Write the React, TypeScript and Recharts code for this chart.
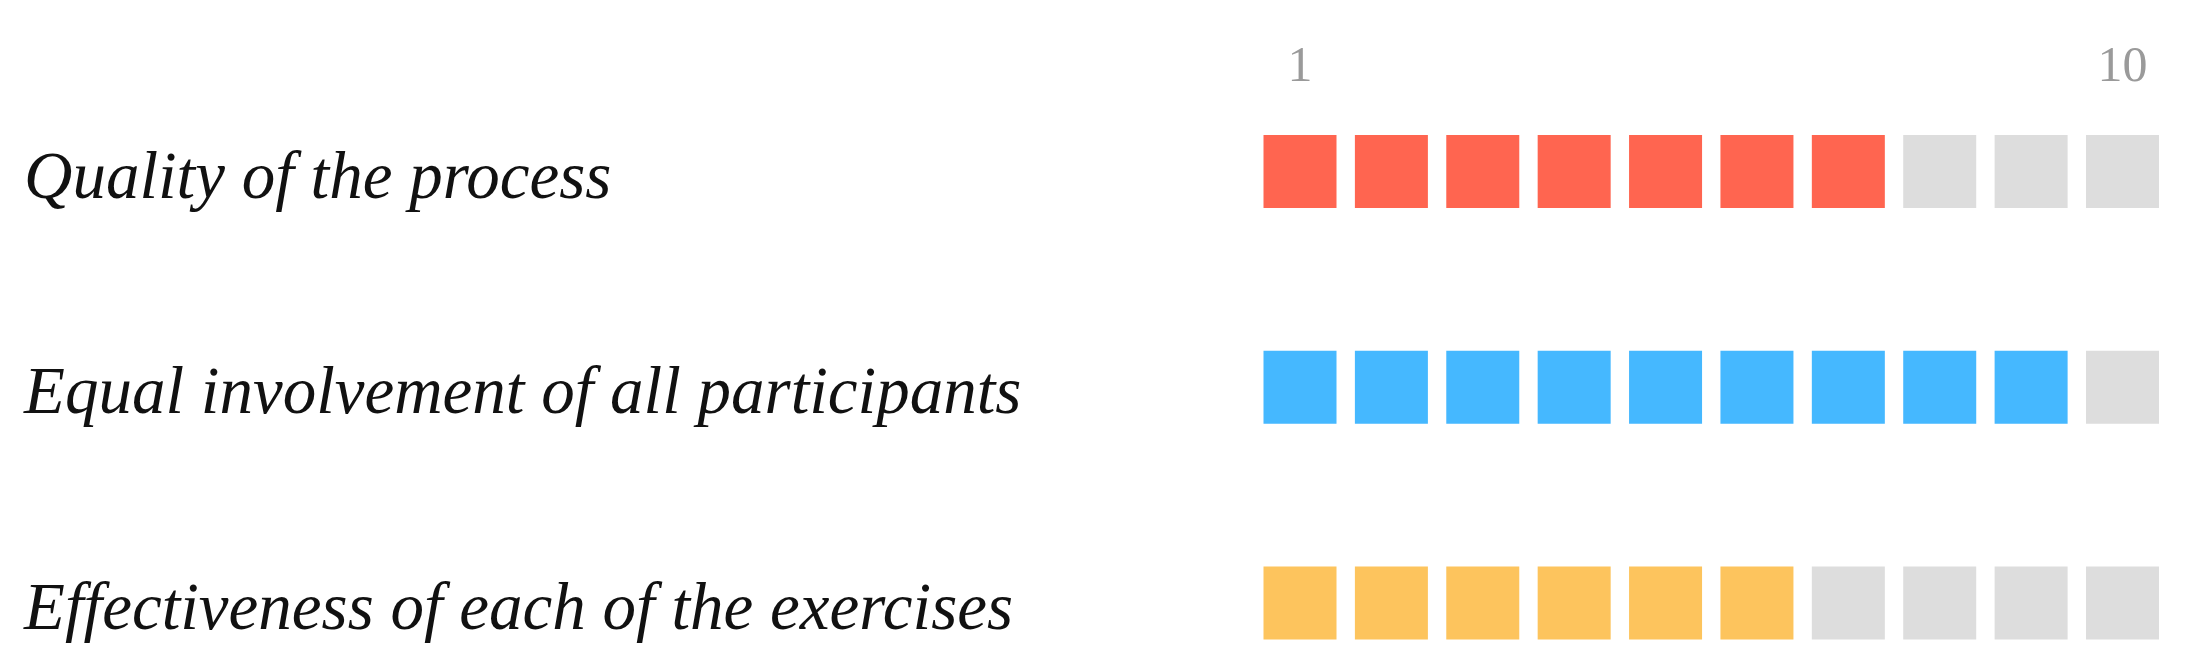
import { ScatterChart, Scatter, XAxis, YAxis, Cell } from "recharts";

const categories = [
  "Quality of the process",
  "Equal involvement of all participants",
  "Effectiveness of each of the exercises",
];
const scores = [7, 9, 6];
const rowColors = ["#ff6550", "#45b8ff", "#fdc45d"];
const emptyColor = "#dddddd";
const scale = [1, 2, 3, 4, 5, 6, 7, 8, 9, 10];
const scaleTicks = [1, 10];

const SQUARE = 73;

const points = categories.flatMap((name, row) =>
  scale.map((pos) => ({
    pos,
    row,
    name,
    fill: pos <= scores[row] ? rowColors[row] : emptyColor,
  }))
);

const Square = (props: any) => {
  const { cx, cy, fill } = props;
  return (
    <rect
      x={cx - SQUARE / 2}
      y={cy - SQUARE / 2}
      width={SQUARE}
      height={SQUARE}
      fill={fill}
    />
  );
};

const RowLabel = (props: any) => {
  const { y, payload } = props;
  return (
    <text
      x={24}
      y={y + 26}
      textAnchor="start"
      fontFamily="'Liberation Serif', 'Times New Roman', serif"
      fontStyle="italic"
      fontSize={67}
      fill="#111"
    >
      {categories[payload.value]}
    </text>
  );
};

const ScaleLabel = (props: any) => {
  const { x, payload } = props;
  return (
    <text
      x={x}
      y={81}
      textAnchor="middle"
      fontFamily="'Liberation Serif', 'Times New Roman', serif"
      fontSize={50}
      fill="#9a9a9a"
    >
      {payload.value}
    </text>
  );
};

const App = () => {
  return (
    <div style={{ position: "absolute", left: 0, top: 0, background: "#fff" }}>
      <ScatterChart
        width={2204}
        height={672}
        margin={{ top: 131.5, right: 81.5, bottom: 69, left: 0 }}
      >
        <XAxis
          type="number"
          dataKey="pos"
          orientation="top"
          domain={[1, 10]}
          ticks={scaleTicks}
          height={40}
          axisLine={false}
          tickLine={false}
          tick={<ScaleLabel />}
        />
        <YAxis
          type="number"
          dataKey="row"
          domain={[0, 2]}
          ticks={[0, 1, 2]}
          reversed
          width={1300}
          axisLine={false}
          tickLine={false}
          tick={<RowLabel />}
        />
        <Scatter data={points} shape={<Square />} isAnimationActive={false}>
          {points.map((p, i) => (
            <Cell key={i} fill={p.fill} />
          ))}
        </Scatter>
      </ScatterChart>
    </div>
  );
};

export default App;
